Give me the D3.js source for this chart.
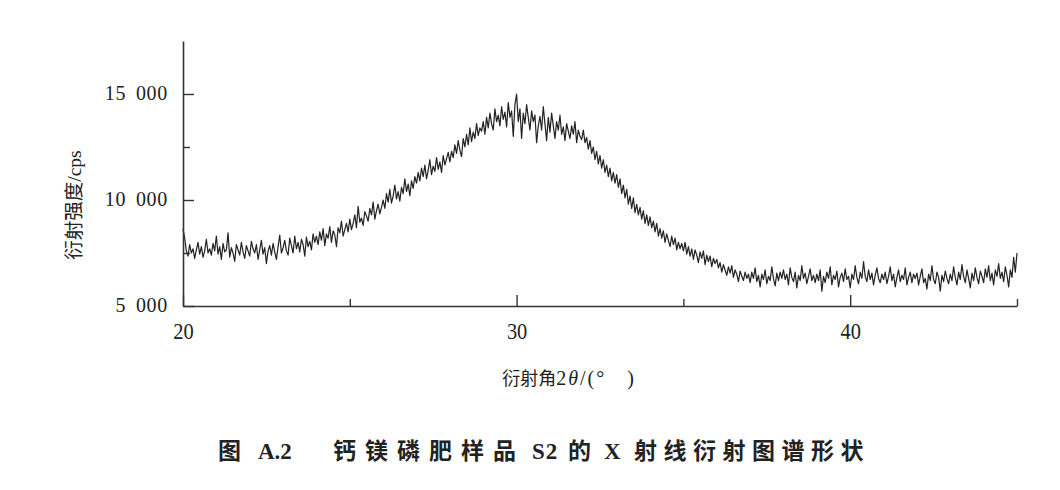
<!DOCTYPE html>
<html>
<head>
<meta charset="utf-8">
<script src="https://cdn.jsdelivr.net/npm/d3@7"></script>
<style>
  html, body { margin: 0; padding: 0; background: #fff; }
  svg { display: block; }
  text { fill: #222; }
</style>
</head>
<body>
<svg id="chart" width="1060" height="490"></svg>
<script>
// ---- data ----
const angleStart = 20;      // 2θ of first reading (°)
const angleStep = 0.05;     // step between readings (°)
const intensity = [
  // 20-21
  8650, 8200, 7600, 7350, 7900, 7500, 7700, 7250, 7650, 8000, 7450, 7800, 7300, 7600, 8150, 7500, 7700, 7400, 7950, 7600,
  // 21-22
  8300, 7450, 7800, 7200, 7950, 7550, 7650, 8450, 7300, 7750, 7500, 7100, 7900, 7650, 7400, 8000, 7550, 7250, 7850, 7600,
  // 22-23
  7350, 8050, 7700, 7500, 7900, 7200, 7650, 8100, 7450, 7750, 7000, 7600, 7850, 7400, 7950, 7550, 7200, 7800, 8350, 7500,
  // 23-24
  7750, 8100, 7600, 7400, 8200, 7850, 7500, 8300, 7700, 8000, 7550, 8150, 7900, 7350, 8250, 7800, 8050, 7650, 8400, 8000,
  // 24-25
  8300, 7900, 8500, 8100, 8650, 7850, 8400, 8200, 8750, 8000, 8550, 8350, 7800, 8700, 8450, 9000, 8300, 8600, 8900, 8500,
  // 25-26
  9100, 8600, 8900, 9300, 8700, 9700, 8950, 9150, 8800, 9450, 9250, 9000, 9600, 9300, 9900, 9100, 9500, 9800, 9350, 9650,
  // 26-27
  10000, 9600, 10300, 9900, 10500, 9850, 10200, 10700, 10050, 10400, 9950, 10600, 10300, 11000, 10400, 10750, 10200, 10900, 10550, 11100,
  // 27-28
  10800, 11300, 10900, 11500, 11100, 11650, 11000, 11400, 11900, 11200, 11600, 11350, 12000, 11450, 11800, 11300, 12100, 11650, 11950, 12250,
  // 28-29
  11800, 12300, 12000, 12600, 12200, 12800, 12350, 12050, 12900, 12500, 13100, 12600, 13400, 12750, 13200, 12900, 13600, 13050, 13400, 13250,
  // 29-30
  13700, 13100, 13900, 13400, 14100, 13600, 13300, 14300, 13700, 14000, 13500, 14400, 13800, 14150, 13450, 14600, 13900, 14200, 13000, 14500,
  // 30-31
  15000, 13700, 14300, 12900, 14100, 13600, 14500, 13900, 13300, 14200, 13700, 14000, 12700, 13500, 13950, 13300, 14400, 13600, 12800, 13900,
  // 31-32
  13200, 14100, 13500, 12900, 13700, 13300, 14000, 13100, 13450, 12800, 13600, 13250, 12900, 13500, 13100, 13700, 12700, 13300, 13000, 12850,
  // 32-33
  13300, 12700, 12950, 12400, 12800, 12200, 12500, 11900, 12300, 11700, 12100, 11500, 11900, 11300, 11650, 11100, 11500, 10900, 11300, 10800,
  // 33-34
  11200, 10600, 11000, 10300, 10700, 10100, 10500, 9800, 10200, 9600, 10100, 9400, 9800, 9300, 9650, 9100, 9500, 8900, 9300, 8800,
  // 34-35
  9200, 8700, 9000, 8500, 8900, 8300, 8650, 8200, 8550, 8000, 8400, 8100, 7800, 8300, 7900, 8200, 7650, 8000, 7700, 7950,
  // 35-36
  7600, 8000, 7450, 7800, 7350, 7700, 7200, 7650, 7400, 7050, 7550, 7250, 7600, 6950, 7400, 7100, 7350, 6850, 7250, 7000,
  // 36-37
  7200, 6800, 7050, 6600, 6950, 6700, 6450, 6850, 6550, 6900, 6350, 6700, 6500, 6150, 6650, 6400, 6200, 6600, 6300, 6500,
  // 37-38
  6100, 6600, 6300, 6800, 6150, 6450, 5900, 6500, 6250, 6700, 6050, 6400, 6200, 6850, 6300, 5950, 6550, 6200, 6600, 6300,
  // 38-39
  6700, 6250, 6500, 6000, 6800, 6350, 6150, 6600, 5850, 6450, 6200, 6900, 6300, 6550, 6050, 6400, 6750, 6200, 6450, 6100,
  // 39-40
  6500, 6200, 6700, 5700, 6400, 6100, 6600, 6300, 6850, 6000, 6450, 6250, 6650, 5900, 6350, 6550, 6150, 6750, 6250, 6400,
  // 40-41
  5850, 6500, 6250, 6900, 6350, 6050, 6600, 6300, 7100, 6400, 6150, 6700, 6250, 6550, 6000, 6450, 6800, 6300, 6100, 6500,
  // 41-42
  6250, 6600, 6050, 6400, 6850, 6200, 6500, 5900, 6350, 6700, 6150, 6450, 6250, 6800, 6000, 6350, 6600, 6100, 6500, 6300,
  // 42-43
  6550, 6000, 6400, 6750, 6100, 6300, 5800, 6500, 6200, 6900, 6250, 6050, 6600, 6350, 5700, 6450, 6150, 6650, 6300, 6050,
  // 43-44
  6500, 6200, 6850, 6350, 6000, 6600, 6250, 6950, 6400, 6100, 6700, 6300, 5850, 6550, 6200, 6800, 6350, 6050, 6650, 6400,
  // 44-45
  6100, 6750, 6350, 6900, 6200, 6550, 6000, 6700, 6400, 7000, 6300, 6600, 6150, 6850, 6450, 5900, 6700, 6350, 7300, 6600, 7500
];
const xMajorTicks = [20, 30, 40];
const xMinorTicks = [25, 35, 45];
const yMajorTicks = [5000, 10000, 15000];
const yMinorTicks = [7500, 12500];
const xDomain = [20, 45];
const yDomain = [5000, 17500];
const yTitle = "衍射强度/cps";
const xTitleParts = ["衍射角", "2", "θ", "/(°   )"];
const titleParts = ["图", "A.2", "钙镁磷肥样品", "S2", "的", "X", "射线衍射图谱形状"];

// ---- drawing ----
const svg = d3.select("#chart");
const serif = "'Liberation Serif','Noto Sans CJK SC',serif";
const cjk = "'Noto Sans CJK SC','Liberation Serif',sans-serif";
const plotL = 183, plotR = 1017, plotT = 41, plotB = 306;

const x = d3.scaleLinear().domain(xDomain).range([plotL, plotR]);
const y = d3.scaleLinear().domain(yDomain).range([plotB, plotT]);

const fmt = d3.formatLocale({decimal: ".", thousands: " ", grouping: [3], currency: ["", ""]}).format(",d");

// data line
const pts = intensity.map((v, i) => [angleStart + i * angleStep, v]);
svg.append("path")
  .datum(pts)
  .attr("fill", "none")
  .attr("stroke", "#222")
  .attr("stroke-width", 1.2)
  .attr("stroke-linejoin", "round")
  .attr("d", d3.line().x(d => x(d[0])).y(d => y(d[1])));

function styleAxis(g) {
  g.select(".domain").attr("stroke", "#333").attr("stroke-width", 1.6);
  g.selectAll(".tick line").attr("stroke", "#333").attr("stroke-width", 1.4);
  g.selectAll(".tick text").style("font-family", serif).attr("fill", "#222");
}

// y axis
const gy = svg.append("g").attr("transform", `translate(${plotL},0)`)
  .call(d3.axisLeft(y).tickValues(yMajorTicks).tickSize(-11).tickSizeOuter(0).tickPadding(15).tickFormat(fmt));
styleAxis(gy);
gy.selectAll(".tick text")
  .style("font-size", "20px")
  .style("letter-spacing", "0.7px")
  .style("word-spacing", "4px")
  .attr("dy", "0.25em");
const gy2 = svg.append("g").attr("transform", `translate(${plotL},0)`)
  .call(d3.axisLeft(y).tickValues(yMinorTicks).tickSize(-7).tickSizeOuter(0).tickFormat(""));
styleAxis(gy2);
gy2.select(".domain").remove();

// x axis
const gx = svg.append("g").attr("transform", `translate(0,${plotB})`)
  .call(d3.axisBottom(x).tickValues(xMajorTicks).tickSize(-11).tickSizeOuter(0).tickPadding(16).tickFormat(d3.format("d")));
styleAxis(gx);
gx.selectAll(".tick text")
  .style("font-size", "24px")
  .attr("transform", "scale(0.85,1)");
const gx2 = svg.append("g").attr("transform", `translate(0,${plotB})`)
  .call(d3.axisBottom(x).tickValues(xMinorTicks).tickSize(-7).tickSizeOuter(0).tickFormat(""));
styleAxis(gx2);
gx2.select(".domain").remove();

// y title
svg.append("text")
  .attr("transform", "translate(81,205) rotate(-90)")
  .attr("text-anchor", "middle")
  .style("font-family", serif)
  .style("font-size", "19.5px")
  .text(yTitle);

// x title
const xt = svg.append("text")
  .attr("x", 569).attr("y", 385)
  .attr("text-anchor", "middle")
  .style("font-family", serif)
  .attr("xml:space", "preserve");
xt.append("tspan").style("font-size", "18px").text(xTitleParts[0]);
xt.append("tspan").style("font-size", "20px").style("letter-spacing", "2px").text(xTitleParts[1]);
xt.append("tspan").style("font-size", "20px").style("letter-spacing", "2px").style("font-style", "italic").text(xTitleParts[2]);
xt.append("tspan").style("font-size", "20px").style("letter-spacing", "2px").text(xTitleParts[3]);

// figure title
const titleX = [218, 258, 333, 532, 568, 604, 634];
const titleSpacing = [0, 0, 9, 1, 0, 0, 6.5];
const tt = svg.append("text")
  .attr("y", 459)
  .style("font-family", serif)
  .style("font-size", "23px")
  .style("font-weight", "bold");
titleParts.forEach((s, i) => {
  tt.append("tspan")
    .attr("x", titleX[i])
    .style("letter-spacing", titleSpacing[i] + "px")
    .text(s);
});
</script>
</body>
</html>
